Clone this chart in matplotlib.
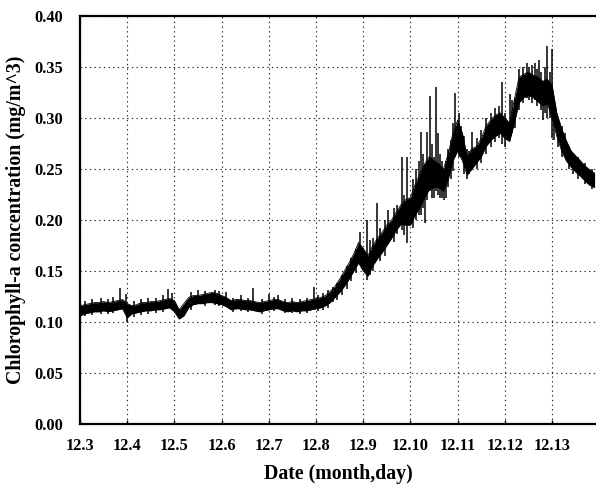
import numpy as np
import matplotlib
matplotlib.use("Agg")
import matplotlib.pyplot as plt

# ---------------------------------------------------------------
# Data (day of December, chl-a in mg/m^3)
# ---------------------------------------------------------------

# band sampled every 0.1 day from 12.3 to 12.13.9
band_start = 3.0
band_step = 0.1
band_low = [
    0.106, 0.108, 0.109, 0.110, 0.110, 0.111, 0.110, 0.111, 0.112, 0.113,   # 3.x
    0.104, 0.108, 0.109, 0.110, 0.111, 0.111, 0.112, 0.112, 0.113, 0.114,   # 4.x
    0.110, 0.103, 0.106, 0.114, 0.117, 0.118, 0.118, 0.119, 0.119, 0.118,   # 5.x
    0.117, 0.115, 0.112, 0.113, 0.113, 0.112, 0.112, 0.111, 0.110, 0.111,   # 6.x
    0.112, 0.113, 0.113, 0.111, 0.110, 0.111, 0.110, 0.111, 0.111, 0.112,   # 7.x
    0.113, 0.114, 0.116, 0.119, 0.124, 0.129, 0.135, 0.142, 0.150, 0.158,   # 8.x
    0.150, 0.145, 0.155, 0.162, 0.168, 0.175, 0.182, 0.190, 0.196, 0.195,   # 9.x
    0.195, 0.205, 0.212, 0.222, 0.230, 0.232, 0.232, 0.228, 0.240, 0.258,   # 10.x
    0.268, 0.258, 0.244, 0.250, 0.256, 0.262, 0.272, 0.278, 0.282, 0.285,   # 11.x
    0.280, 0.277, 0.295, 0.315, 0.320, 0.322, 0.320, 0.316, 0.312, 0.314,   # 12.x
    0.300, 0.282, 0.268, 0.258, 0.252, 0.247, 0.243, 0.238, 0.234, 0.232,   # 13.x
]
band_high = [
    0.116, 0.117, 0.118, 0.119, 0.119, 0.120, 0.119, 0.120, 0.121, 0.122,
    0.118, 0.116, 0.117, 0.119, 0.119, 0.120, 0.120, 0.121, 0.122, 0.123,
    0.121, 0.112, 0.118, 0.124, 0.126, 0.126, 0.127, 0.128, 0.129, 0.128,
    0.126, 0.124, 0.121, 0.122, 0.122, 0.121, 0.121, 0.120, 0.119, 0.120,
    0.121, 0.122, 0.122, 0.120, 0.119, 0.120, 0.119, 0.120, 0.121, 0.122,
    0.123, 0.124, 0.126, 0.130, 0.135, 0.142, 0.150, 0.158, 0.167, 0.178,
    0.172, 0.165, 0.175, 0.182, 0.188, 0.195, 0.200, 0.208, 0.215, 0.220,
    0.222, 0.235, 0.245, 0.255, 0.262, 0.258, 0.255, 0.250, 0.265, 0.285,
    0.298, 0.285, 0.262, 0.270, 0.272, 0.280, 0.292, 0.298, 0.303, 0.305,
    0.300, 0.295, 0.318, 0.340, 0.343, 0.345, 0.342, 0.340, 0.336, 0.338,
    0.332, 0.305, 0.290, 0.278, 0.268, 0.263, 0.258, 0.253, 0.249, 0.246,
]

# spikes sticking out of the band: day, low, high
spike_day = [
    3.10, 3.25, 3.45, 3.60, 3.70, 3.84, 3.97, 4.00, 4.15, 4.30,
    4.45, 4.60, 4.75, 4.87, 4.95, 5.35, 5.50, 5.65, 5.85, 5.95,
    6.10, 6.25, 6.40, 6.55, 6.67, 6.85, 7.00, 7.10, 7.20, 7.35,
    7.50, 7.65, 7.80, 7.95, 8.05, 8.15, 8.25, 8.36, 8.45, 8.55,
    8.65, 8.75, 8.85, 8.93, 9.08, 9.15, 9.20, 9.29, 9.35, 9.45,
    9.53, 9.65, 9.72, 9.82, 9.87, 9.93, 10.05, 10.12, 10.18, 10.22,
    10.26, 10.30, 10.36, 10.42, 10.46, 10.50, 10.54, 10.58, 10.62, 10.66,
    10.70, 10.75, 10.80, 10.85, 10.90, 10.95, 11.02, 11.08, 11.13, 11.20,
    11.25, 11.30, 11.40, 11.50, 11.60, 11.70, 11.80, 11.88, 11.94, 12.00,
    12.10, 12.15, 12.22, 12.30, 12.38, 12.46, 12.52, 12.58, 12.64, 12.68,
    12.72, 12.76, 12.81, 12.86, 12.90, 12.95, 13.00, 13.05, 13.12, 13.20,
    13.28, 13.35, 13.45, 13.55, 13.70, 13.85,
]
spike_low = [
    0.106, 0.107, 0.108, 0.108, 0.109, 0.118, 0.112, 0.100, 0.105, 0.107,
    0.108, 0.109, 0.110, 0.120, 0.112, 0.112, 0.122, 0.116, 0.117, 0.116,
    0.120, 0.110, 0.111, 0.110, 0.118, 0.108, 0.118, 0.111, 0.118, 0.109,
    0.109, 0.108, 0.109, 0.120, 0.111, 0.112, 0.114, 0.120, 0.122, 0.126,
    0.132, 0.140, 0.148, 0.160, 0.141, 0.146, 0.150, 0.165, 0.160, 0.165,
    0.180, 0.178, 0.186, 0.190, 0.185, 0.177, 0.192, 0.200, 0.205, 0.205,
    0.212, 0.197, 0.220, 0.228, 0.222, 0.222, 0.228, 0.225, 0.222, 0.222,
    0.220, 0.222, 0.232, 0.240, 0.248, 0.262, 0.262, 0.262, 0.245, 0.240,
    0.245, 0.250, 0.250, 0.256, 0.265, 0.272, 0.276, 0.280, 0.275, 0.272,
    0.278, 0.285, 0.290, 0.308, 0.315, 0.320, 0.318, 0.315, 0.318, 0.312,
    0.318, 0.308, 0.298, 0.305, 0.300, 0.300, 0.280, 0.278, 0.272, 0.262,
    0.262, 0.250, 0.245, 0.240, 0.235, 0.230,
]
spike_high = [
    0.121, 0.123, 0.124, 0.123, 0.125, 0.133, 0.127, 0.112, 0.121, 0.123,
    0.124, 0.124, 0.126, 0.132, 0.128, 0.129, 0.131, 0.130, 0.131, 0.130,
    0.129, 0.124, 0.126, 0.124, 0.133, 0.123, 0.127, 0.125, 0.126, 0.123,
    0.124, 0.123, 0.124, 0.134, 0.126, 0.128, 0.131, 0.134, 0.138, 0.146,
    0.155, 0.163, 0.172, 0.188, 0.200, 0.180, 0.182, 0.217, 0.192, 0.200,
    0.210, 0.212, 0.215, 0.262, 0.225, 0.262, 0.240, 0.250, 0.258, 0.286,
    0.265, 0.255, 0.286, 0.322, 0.275, 0.262, 0.330, 0.285, 0.265, 0.258,
    0.245, 0.258, 0.270, 0.278, 0.295, 0.325, 0.305, 0.292, 0.282, 0.270,
    0.268, 0.286, 0.280, 0.288, 0.300, 0.305, 0.310, 0.312, 0.335, 0.305,
    0.324, 0.318, 0.320, 0.348, 0.350, 0.354, 0.350, 0.352, 0.354, 0.348,
    0.357, 0.345, 0.336, 0.350, 0.371, 0.345, 0.368, 0.318, 0.300, 0.292,
    0.285, 0.272, 0.266, 0.262, 0.256, 0.250,
]

tick_days = [3, 4, 5, 6, 7, 8, 9, 10, 11, 12, 13]
tick_labels = ["12.%d" % d for d in tick_days]
y_ticks = [0.00, 0.05, 0.10, 0.15, 0.20, 0.25, 0.30, 0.35, 0.40]

plt.rcParams["font.family"] = ["Liberation Serif", "DejaVu Serif"]
plt.rcParams["font.weight"] = "bold"

fig = plt.figure(figsize=(5.96, 4.84), dpi=100)
ax = fig.add_axes([80 / 596, 1 - 424 / 484, 516 / 596, 408 / 484])

days = band_start + band_step * np.arange(len(band_low))
ax.fill_between(days, band_low, band_high, color="black", lw=0)
ax.plot(days, band_low, color="black", lw=0.6)
ax.plot(days, band_high, color="black", lw=0.6)
ax.vlines(spike_day, spike_low, spike_high, color="black", lw=1.1)

ax.set_xlim(3, 13.93)
ax.set_ylim(0, 0.40)
ax.set_xticks(tick_days)
ax.set_xticklabels(tick_labels)
ax.set_yticks(y_ticks)
ax.set_yticklabels(["%.2f" % v for v in y_ticks])

ax.grid(True, color="#222222", lw=0.8, linestyle=(0, (1.2, 3.0)))
ax.set_axisbelow(True)

ax.tick_params(axis="x", direction="in", length=3, width=1, pad=10, labelsize=11.8)
ax.tick_params(axis="y", length=0, pad=12, labelsize=11.8)
for lab in ax.get_xticklabels() + ax.get_yticklabels():
    lab.set_fontweight("bold")

for side in ["top", "left", "bottom"]:
    ax.spines[side].set_linewidth(1.6)
ax.spines["right"].set_visible(False)

ax.set_xlabel("Date (month,day)", fontsize=14.3, fontweight="bold", labelpad=7)
ax.set_ylabel("Chlorophyll-a concentration (mg/m^3)", fontsize=14.3,
              fontweight="bold", labelpad=6)

fig.savefig("out.png", dpi=100)
